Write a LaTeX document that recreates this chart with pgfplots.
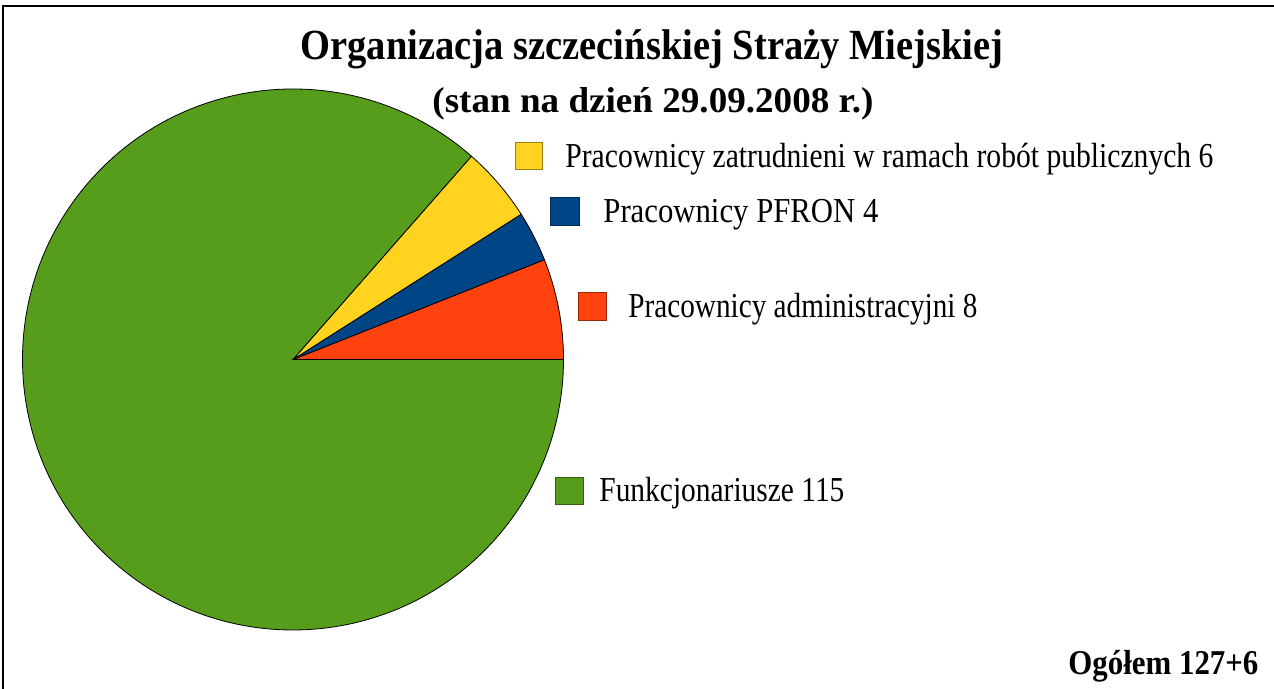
\documentclass[border=0pt]{standalone}
\usepackage{pgfplots}
\usepackage{pgfplotstable}
\pgfplotsset{compat=1.18}
\usepackage{graphicx}
\usepackage{fontspec}
\setmainfont{Liberation Serif}
\definecolor{c0}{HTML}{FF420E}
\definecolor{c1}{HTML}{004586}
\definecolor{c2}{HTML}{FFD320}
\definecolor{c3}{HTML}{579D1C}
\pgfplotstableread{
value
8
4
6
115
}\piedata
\def\total{0}%
\pgfplotsforeachungrouped \i in {0,...,3}{%
  \pgfplotstablegetelem{\i}{value}\of\piedata
  \pgfmathsetmacro{\total}{\total+\pgfplotsretval}%
}%
\def\cum{0}%
\pgfplotsforeachungrouped \i in {0,...,3}{%
  \pgfplotstablegetelem{\i}{value}\of\piedata
  \pgfmathsetmacro{\sa}{\cum/\total*360}%
  \pgfmathsetmacro{\cum}{\cum+\pgfplotsretval}%
  \pgfmathsetmacro{\ea}{\cum/\total*360}%
  \expandafter\xdef\csname st\i\endcsname{\sa}%
  \expandafter\xdef\csname en\i\endcsname{\ea}%
}%
\begin{document}%
\begin{tikzpicture}%
\begin{axis}[scale only axis, width=637pt, height=344.5pt,
  xmin=0, xmax=1274, ymin=0, ymax=689, hide axis, clip=false]
\draw[line width=1pt] (axis cs:3,0) -- (axis cs:3,683) -- (axis cs:1274,683);
\pgfplotsinvokeforeach{0,...,3}{%
  \filldraw[fill=c#1, draw=black, line width=0.4pt]
    (axis cs:293,329.5) -- ++(\csname st#1\endcsname:135.25pt)
    arc[start angle=\csname st#1\endcsname, end angle=\csname en#1\endcsname, radius=135.25pt] -- cycle;%
}
% legend squares
\filldraw[fill=c2, draw=c2!60!black, line width=0.5pt] (axis cs:515,546) rectangle (axis cs:542,519);
\filldraw[fill=c1, draw=c1!60!black, line width=0.5pt] (axis cs:550,491) rectangle (axis cs:579,463);
\filldraw[fill=c0, draw=c0!60!black, line width=0.5pt] (axis cs:578,396) rectangle (axis cs:606,368);
\filldraw[fill=c3, draw=c3!60!black, line width=0.5pt] (axis cs:555,211) rectangle (axis cs:583,184);
% legend texts
\node[anchor=base west, inner sep=0pt] at (axis cs:565,521) {\resizebox{324pt}{\height}{\fontsize{17.5}{20}\selectfont Pracownicy zatrudnieni w ramach robót publicznych 6}};
\node[anchor=base west, inner sep=0pt] at (axis cs:603,466) {\resizebox{137.5pt}{\height}{\fontsize{17.5}{20}\selectfont Pracownicy PFRON 4}};
\node[anchor=base west, inner sep=0pt] at (axis cs:628,371) {\resizebox{174.5pt}{\height}{\fontsize{17.5}{20}\selectfont Pracownicy administracyjni 8}};
\node[anchor=base west, inner sep=0pt] at (axis cs:599,187) {\resizebox{122.5pt}{\height}{\fontsize{17.5}{20}\selectfont Funkcjonariusze 115}};
% titles
\node[anchor=base west, inner sep=0pt] at (axis cs:300,629) {\resizebox{351.5pt}{\height}{\fontsize{21.5}{24}\selectfont\bfseries Organizacja szczecińskiej Straży Miejskiej}};
\node[anchor=base west, inner sep=0pt] at (axis cs:432,576) {\resizebox{220.5pt}{\height}{\fontsize{18}{21}\selectfont\bfseries (stan na dzień 29.09.2008 r.)}};
\node[anchor=base west, inner sep=0pt] at (axis cs:1068,14) {\resizebox{95pt}{\height}{\fontsize{17.4}{20}\selectfont\bfseries Ogółem 127+6}};
\end{axis}
\pgfresetboundingbox
\path (current axis.south west) rectangle (current axis.north east);
\end{tikzpicture}%
\end{document}
